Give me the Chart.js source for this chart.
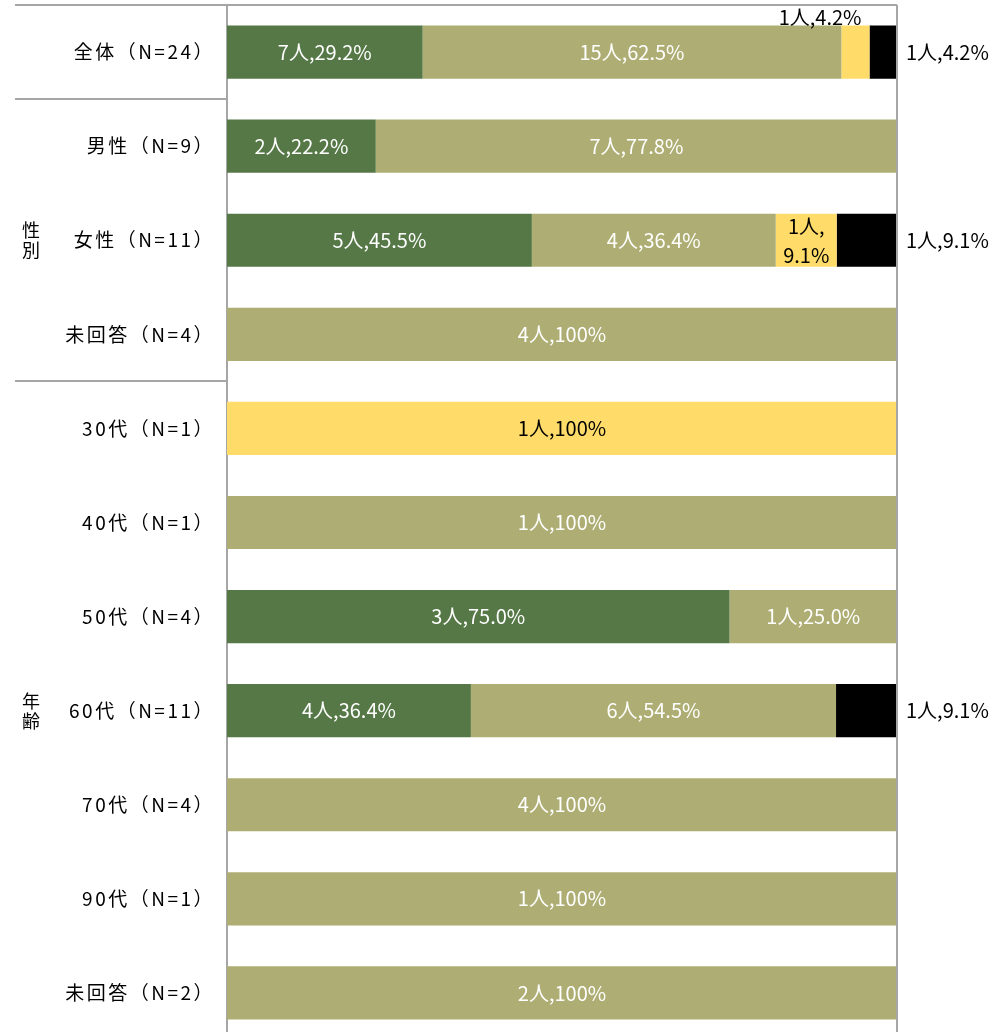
<!DOCTYPE html>
<html lang="ja">
<head>
<meta charset="utf-8">
<script src="https://cdn.jsdelivr.net/npm/chart.js@4"></script>
<style>
  html, body { margin: 0; padding: 0; background: #fff; overflow: hidden; }
  #wrap { width: 1001px; height: 1040px; }
</style>
</head>
<body>
<div id="wrap"><canvas id="chart"></canvas></div>
<script>
// 行ラベル
const categories = [
  "全体（N=24）",
  "男性（N=9）",
  "女性（N=11）",
  "未回答（N=4）",
  "30代（N=1）",
  "40代（N=1）",
  "50代（N=4）",
  "60代（N=11）",
  "70代（N=4）",
  "90代（N=1）",
  "未回答（N=2）",
];

// 属性グループ（開始行・終了行）
const groupLabels = ["性別", "年齢"];
const groupStart = [1, 4];
const groupEnd = [3, 10];

// 回答数
const count1 = [7, 2, 5, 0, 0, 0, 3, 4, 0, 0, 0];
const count2 = [15, 7, 4, 4, 0, 1, 1, 6, 4, 1, 2];
const count3 = [1, 0, 1, 0, 1, 0, 0, 0, 0, 0, 0];
const count4 = [1, 0, 1, 0, 0, 0, 0, 1, 0, 0, 0];

// 割合（%）
const pct1 = [29.2, 22.2, 45.5, 0, 0, 0, 75.0, 36.4, 0, 0, 0];
const pct2 = [62.5, 77.8, 36.4, 100, 0, 100, 25.0, 54.5, 100, 100, 100];
const pct3 = [4.2, 0, 9.1, 0, 100, 0, 0, 0, 0, 0, 0];
const pct4 = [4.2, 0, 9.1, 0, 0, 0, 0, 9.1, 0, 0, 0];

const colors = ["#557846", "#AEAE74", "#FFDC69", "#000000"];
const labelColors = ["#ffffff", "#ffffff", "#000000", "#000000"];
const counts = [count1, count2, count3, count4];
const pcts = [pct1, pct2, pct3, pct4];

const LINE = "#A6A6A6";
const LABEL_FONT = "'Liberation Sans Narrow', 'Noto Sans CJK JP', sans-serif";
const JP_FONT = "'Noto Sans CJK JP', sans-serif";

function fmtPct(p) {
  return p === 100 ? "100" : p.toFixed(1);
}

// 枠線・区切り線・属性ラベル
const framePlugin = {
  id: "frame",
  beforeDraw(chart) {
    // 行ラベルの字間
    chart.ctx.letterSpacing = "2.5px";
  },
  beforeDatasetsDraw(chart) {
    chart.ctx.letterSpacing = "0px";
  },
  afterDraw(chart) {
    const { ctx, chartArea } = chart;
    const y = chart.scales.y;
    const band = y.getPixelForValue(1) - y.getPixelForValue(0);
    ctx.save();
    ctx.letterSpacing = "0px";
    ctx.strokeStyle = LINE;
    ctx.lineWidth = 2;
    ctx.beginPath();
    ctx.moveTo(15, chartArea.top);
    ctx.lineTo(chartArea.right, chartArea.top);
    ctx.moveTo(chartArea.right, chartArea.top);
    ctx.lineTo(chartArea.right, chartArea.bottom);
    groupStart.forEach((s) => {
      const yy = Math.round(y.getPixelForValue(s) - band / 2);
      ctx.moveTo(15, yy);
      ctx.lineTo(chartArea.left, yy);
    });
    ctx.stroke();

    ctx.fillStyle = "#000";
    ctx.font = "18px " + JP_FONT;
    ctx.textAlign = "center";
    ctx.textBaseline = "middle";
    groupLabels.forEach((g, i) => {
      const cy = (y.getPixelForValue(groupStart[i]) + y.getPixelForValue(groupEnd[i])) / 2;
      const chars = [...g];
      chars.forEach((c, k) => {
        ctx.fillText(c, 31, cy + (k - (chars.length - 1) / 2) * 20);
      });
    });
    ctx.restore();
  },
};

// データラベル
const labelPlugin = {
  id: "barLabels",
  afterDatasetsDraw(chart) {
    const { ctx, chartArea } = chart;
    ctx.save();
    ctx.font = "20px " + LABEL_FONT;
    ctx.textBaseline = "middle";
    chart.data.datasets.forEach((ds, i) => {
      const meta = chart.getDatasetMeta(i);
      meta.data.forEach((bar, j) => {
        const p = pcts[i][j];
        if (!p) return;
        const text = counts[i][j] + "人," + fmtPct(p) + "%";
        const w = bar.x - bar.base;
        ctx.fillStyle = labelColors[i];
        if (i === 3) {
          ctx.textAlign = "left";
          ctx.fillText(text, chartArea.right + 9, bar.y);
        } else if (w < 40) {
          ctx.textAlign = "right";
          ctx.fillText(text, bar.x - 8, bar.y - bar.height / 2 - 8);
        } else if (w < 80) {
          ctx.textAlign = "center";
          const parts = text.split(",");
          ctx.fillText(parts[0] + ",", (bar.x + bar.base) / 2, bar.y - 14);
          ctx.fillText(parts[1], (bar.x + bar.base) / 2, bar.y + 15);
        } else {
          ctx.textAlign = "center";
          ctx.fillText(text, (bar.x + bar.base) / 2, bar.y);
        }
      });
    });
    ctx.restore();
  },
};

new Chart(document.getElementById("chart"), {
  type: "bar",
  data: {
    labels: categories,
    datasets: pcts.map((d, i) => ({
      label: "選択肢" + (i + 1),
      data: d,
      backgroundColor: colors[i],
      borderWidth: 0,
      barPercentage: 0.565,
      categoryPercentage: 1,
    })),
  },
  options: {
    indexAxis: "y",
    responsive: true,
    maintainAspectRatio: false,
    animation: false,
    layout: { padding: { top: 5, right: 104, bottom: 0, left: 0 } },
    plugins: {
      legend: { display: false },
      tooltip: { enabled: false },
    },
    scales: {
      x: {
        stacked: true,
        min: 0,
        max: 100,
        display: false,
      },
      y: {
        stacked: true,
        afterFit(scale) {
          scale.width = 227;
          scale.paddingTop = 0;
          scale.paddingBottom = 0;
        },
        grid: { display: false, drawTicks: false },
        border: { display: true, color: LINE, width: 2 },
        ticks: {
          color: "#000",
          padding: 12,
          font: { family: JP_FONT, size: 19 },
        },
      },
    },
  },
  plugins: [framePlugin, labelPlugin],
});
</script>
</body>
</html>
